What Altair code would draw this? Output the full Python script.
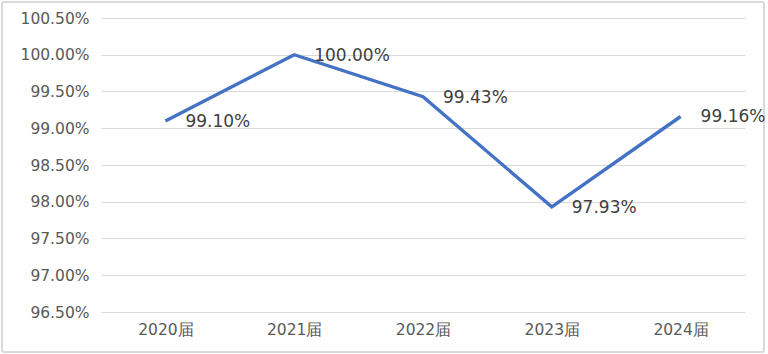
import altair as alt
import pandas as pd

categories = ["2020届", "2021届", "2022届", "2023届", "2024届"]
values = [0.9910, 1.0000, 0.9943, 0.9793, 0.9916]
y_ticks = [0.965, 0.970, 0.975, 0.980, 0.985, 0.990, 0.995, 1.000, 1.005]

df = pd.DataFrame({"cat": categories, "val": values})
FONT = "DejaVu Sans"

x = alt.X("cat:N", sort=categories, title=None,
          scale=alt.Scale(type="point", padding=0.5),
          axis=alt.Axis(labelAngle=0, domain=False, ticks=False, labelPadding=10,
                        labelFontSize=15.5, labelColor="#595959", labelFont=FONT))
y = alt.Y("val:Q", title=None,
          scale=alt.Scale(domain=[0.965, 1.005], nice=False, zero=False),
          axis=alt.Axis(values=y_ticks, format=".2%", domain=False, ticks=False,
                        labelPadding=12, labelFontSize=15.5, labelColor="#595959",
                        labelFont=FONT, gridColor="#d9d9d9", gridWidth=1))

base = alt.Chart(df)
line = base.mark_line(color="#4472C4", strokeWidth=3.4).encode(x=x, y=y)
labels = base.mark_text(align="left", baseline="middle", dx=20, dy=1,
                        fontSize=17, color="#404040", font=FONT).encode(
    x=x, y=y, text=alt.Text("val:Q", format=".2%"))

frame = alt.Chart(pd.DataFrame({"a": [0]})).mark_rect(
    fill=None, stroke="#d9d9d9", strokeWidth=2, cornerRadius=2).encode(
    x=alt.value(-99), x2=alt.value(663), y=alt.value(-16), y2=alt.value(334))

chart = alt.layer(frame, line, labels).properties(
    width=644, height=294,
    autosize=alt.AutoSizeParams(type="none"),
    padding={"left": 101, "top": 18, "right": 23, "bottom": 42},
    background="white",
).configure_view(stroke=None)

chart.save("out.html", embed_options={"renderer": "svg", "actions": False})
